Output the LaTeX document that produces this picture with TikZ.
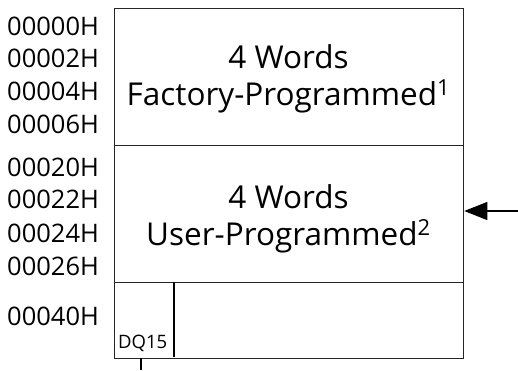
\documentclass[tikz,border=0pt]{standalone}
\usepackage{fontspec}
\setmainfont{Open Sans}
\usetikzlibrary{arrows.meta}
\begin{document}
\begin{tikzpicture}[x=1pt,y=-1pt,
  frame/.style={draw=black!85,line width=1.3pt,anchor=north west,inner sep=0pt,minimum width=349pt},
  addr/.style={anchor=base west,inner sep=0pt,font=\fontsize{25.5}{30}\selectfont},
  title/.style={anchor=base,inner sep=0pt,font=\fontsize{31.5}{36}\selectfont},
  bitlabel/.style={anchor=base west,inner sep=0pt,font=\fontsize{18.5}{22}\selectfont},
  wire/.style={draw=black,line width=1.3pt}]
\useasboundingbox (0,0) rectangle (518,370);

% memory blocks
\node[frame,minimum height=137pt] (factory) at (114,8) {};
\node[frame,minimum height=137pt] (user) at (114,145) {};
\node[frame,minimum height=76pt] (rest) at (114,282) {};

% bit column in the last block
\coordinate (dqtop) at (174,282);
\coordinate (dqbot) at (174,357);
\draw[wire] (dqtop) -- (dqbot);
\node[bitlabel] (dq) at (118,348) {DQ15};
\coordinate (ticktop) at (141,358);
\coordinate (tickbot) at (141,370);
\draw[wire] (ticktop) -- (tickbot);

% block contents
\node[title] (f1) at (288.5,68) {4 Words};
\node[title] (f2) at (288.5,105) {Factory-Programmed\textsuperscript{1}};
\node[title] (u1) at (288.5,208) {4 Words};
\node[title] (u2) at (288.5,245) {User-Programmed\textsuperscript{2}};

% addresses
\node[addr] (a0) at (7,35) {00000H};
\node[addr] (a2) at (7,67.5) {00002H};
\node[addr] (a4) at (7,100) {00004H};
\node[addr] (a6) at (7,133) {00006H};
\node[addr] (a20) at (7,176) {00020H};
\node[addr] (a22) at (7,208.5) {00022H};
\node[addr] (a24) at (7,242) {00024H};
\node[addr] (a26) at (7,275) {00026H};
\node[addr] (a40) at (7,325) {00040H};

% pointer into the user block
\coordinate (ptr) at (518,211);
\draw[wire,-{Triangle[length=23pt,width=18pt]}] (ptr) -- (user.east |- ptr);
\end{tikzpicture}
\end{document}
